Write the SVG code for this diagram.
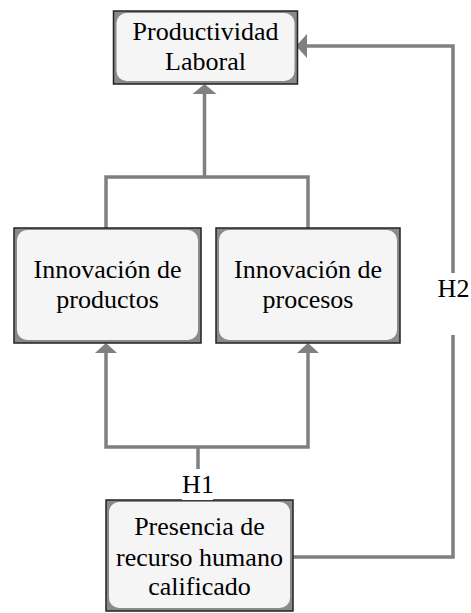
<svg xmlns="http://www.w3.org/2000/svg" width="471" height="613" viewBox="0 0 471 613">
<defs>
<style>
.frame{fill:#8a8a8a;stroke:#222;stroke-width:1.5}
.inner{fill:#f5f5f5;stroke:none}
text{font-family:"Liberation Serif","Tinos","Times New Roman","Nimbus Roman","Nimbus Roman No9 L","Noto Serif","FreeSerif","DejaVu Serif","Times",serif;font-size:26px;fill:#000;text-anchor:middle}
.conn{fill:none;stroke:#808080;stroke-width:3.5;stroke-linejoin:miter}
.head{fill:#808080}
.bg{fill:#fff}
</style>
</defs>
<rect x="0" y="0" width="471" height="613" fill="#fff"/>
<g id="connectors">
<path class="conn" d="M204.5 93 V177"/>
<path class="conn" d="M106 229 V177 H308 V229"/>
<path class="conn" d="M106 352 V447 H308 V352"/>
<path class="conn" d="M198 447 V501"/>
<path class="conn" d="M293 557 H453 V46 H306"/>
<polygon class="head" points="204.5,84 192.5,94 216.5,94"/>
<polygon class="head" points="106,343 95,353 117,353"/>
<polygon class="head" points="308,343 297,353 319,353"/>
<polygon class="head" points="296,46 307,34 307,58"/>
</g>
<g id="node-productividad">
<rect class="frame" x="113.5" y="11" width="184" height="73"/>
<rect class="inner" x="116.5" y="13" width="178" height="68" rx="10"/>
<text x="205.5" y="40">Productividad</text>
<text x="205.5" y="70">Laboral</text>
</g>
<g id="node-productos">
<rect class="frame" x="14" y="228" width="187" height="115"/>
<rect class="inner" x="17" y="230" width="181" height="110" rx="10"/>
<text x="107.5" y="278">Innovación de</text>
<text x="107.5" y="308">productos</text>
</g>
<g id="node-procesos">
<rect class="frame" x="216" y="228" width="184" height="115"/>
<rect class="inner" x="219" y="230" width="178" height="110" rx="10"/>
<text x="308" y="278">Innovación de</text>
<text x="308" y="308">procesos</text>
</g>
<g id="node-presencia">
<rect class="frame" x="106" y="500" width="187" height="111"/>
<rect class="inner" x="109" y="502" width="181" height="106" rx="10"/>
<text x="199.5" y="535">Presencia de</text>
<text x="199.5" y="566">recurso humano</text>
<text x="199.5" y="595">calificado</text>
</g>
<g id="label-h1">
<rect class="bg" x="182" y="469" width="31" height="31"/>
<text x="198" y="493">H1</text>
</g>
<g id="label-h2">
<rect class="bg" x="437" y="273" width="33" height="62"/>
<text x="453.5" y="297">H2</text>
</g>
</svg>
